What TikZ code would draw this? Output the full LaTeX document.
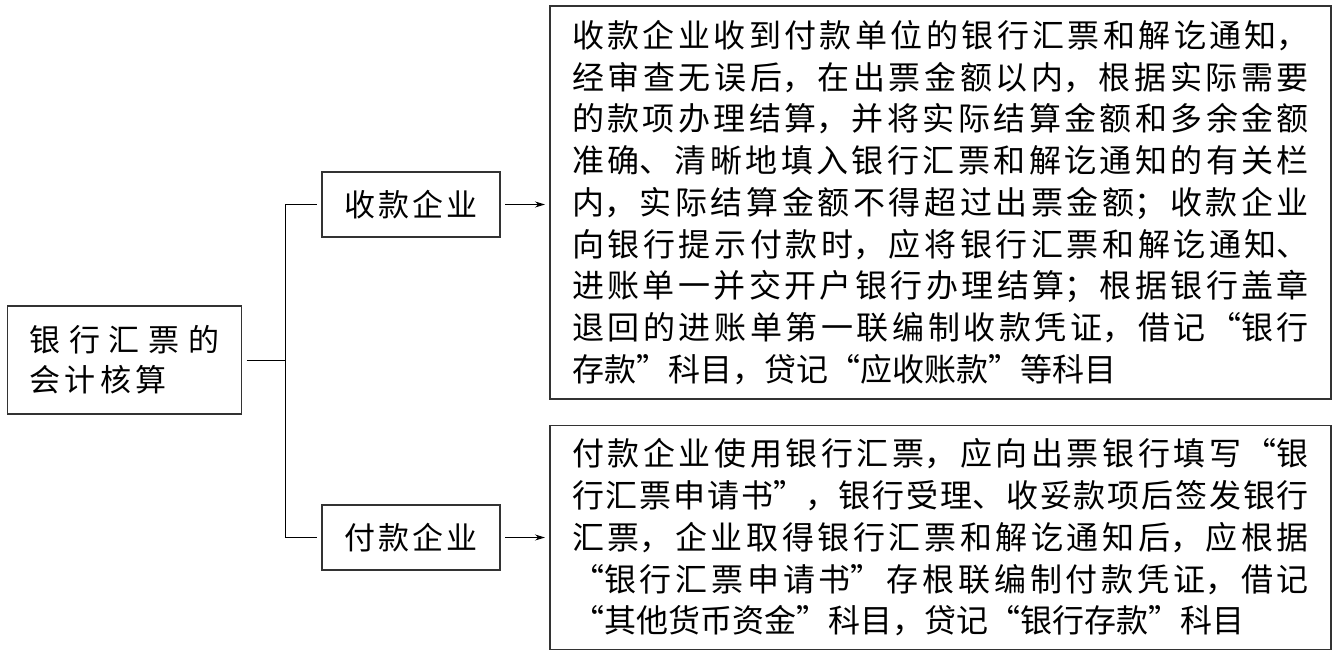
\documentclass[tikz,border=0pt]{standalone}
\usepackage{fontspec}
\setmainfont{Noto Sans CJK SC}
\usetikzlibrary{arrows.meta, positioning}
\XeTeXlinebreaklocale "zh"
\XeTeXlinebreakskip=0pt plus 10pt
\newcommand{\wideskip}{\XeTeXlinebreakskip=4.5pt plus 10pt\relax}

\begin{document}
\begin{tikzpicture}[x=1pt,y=-1pt,line width=1pt,>={Stealth[length=10pt,width=6pt]},
        every node/.style={draw=black!80,line width=1.2pt,outer sep=5pt},
        topic/.style={text width=190pt,align=justify,inner xsep=22pt,minimum height=108pt,
            font=\fontsize{31}{40}\selectfont\wideskip},
        party/.style={minimum width=178pt,minimum height=65pt,
            font=\fontsize{31}{36}\selectfont\addfontfeature{LetterSpace=10}},
        detail/.style={text width=737pt,inner xsep=22pt,align=justify,
            font=\fontsize{32}{41.7}\selectfont}]
    \useasboundingbox (0,0) rectangle (1338,655);

    \node[topic] (acct) at (124.5,360) {银行汇票的\linebreak 会计核算};
    \node[party] (recv) at (411,204.5) {收款企业};
    \node[party] (pay)  at (411,537.5) {付款企业};
    \node[detail,minimum height=393pt] (recvnote) at (940.5,202.5) {收款企业收到付款单位的银行汇票和解讫通知，\linebreak
        经审查无误后，在出票金额以内，根据实际需要\linebreak
        的款项办理结算，并将实际结算金额和多余金额\linebreak
        准确、清晰地填入银行汇票和解讫通知的有关栏\linebreak
        内，实际结算金额不得超过出票金额；收款企业\linebreak
        向银行提示付款时，应将银行汇票和解讫通知、\linebreak
        进账单一并交开户银行办理结算；根据银行盖章\linebreak
        退回的进账单第一联编制收款凭证，借记“银行\linebreak
        存款”科目，贷记“应收账款”等科目};
    \node[detail,minimum height=224pt] (paynote) at (940.5,537.5) {付款企业使用银行汇票，应向出票银行填写“银\linebreak
        行汇票申请书”，银行受理、收妥款项后签发银行\linebreak
        汇票，企业取得银行汇票和解讫通知后，应根据\linebreak
        “银行汇票申请书”存根联编制付款凭证，借记\linebreak
        “其他货币资金”科目，贷记“银行存款”科目};

    \coordinate (fork) at (285,360);
    \draw (acct.east) -- (fork) |- (recv.west);
    \draw (fork) |- (pay.west);
    \draw[->] (recv.east) -- (recv.east -| recvnote.west);
    \draw[->] (pay.east) -- (pay.east -| paynote.west);
\end{tikzpicture}
\end{document}
